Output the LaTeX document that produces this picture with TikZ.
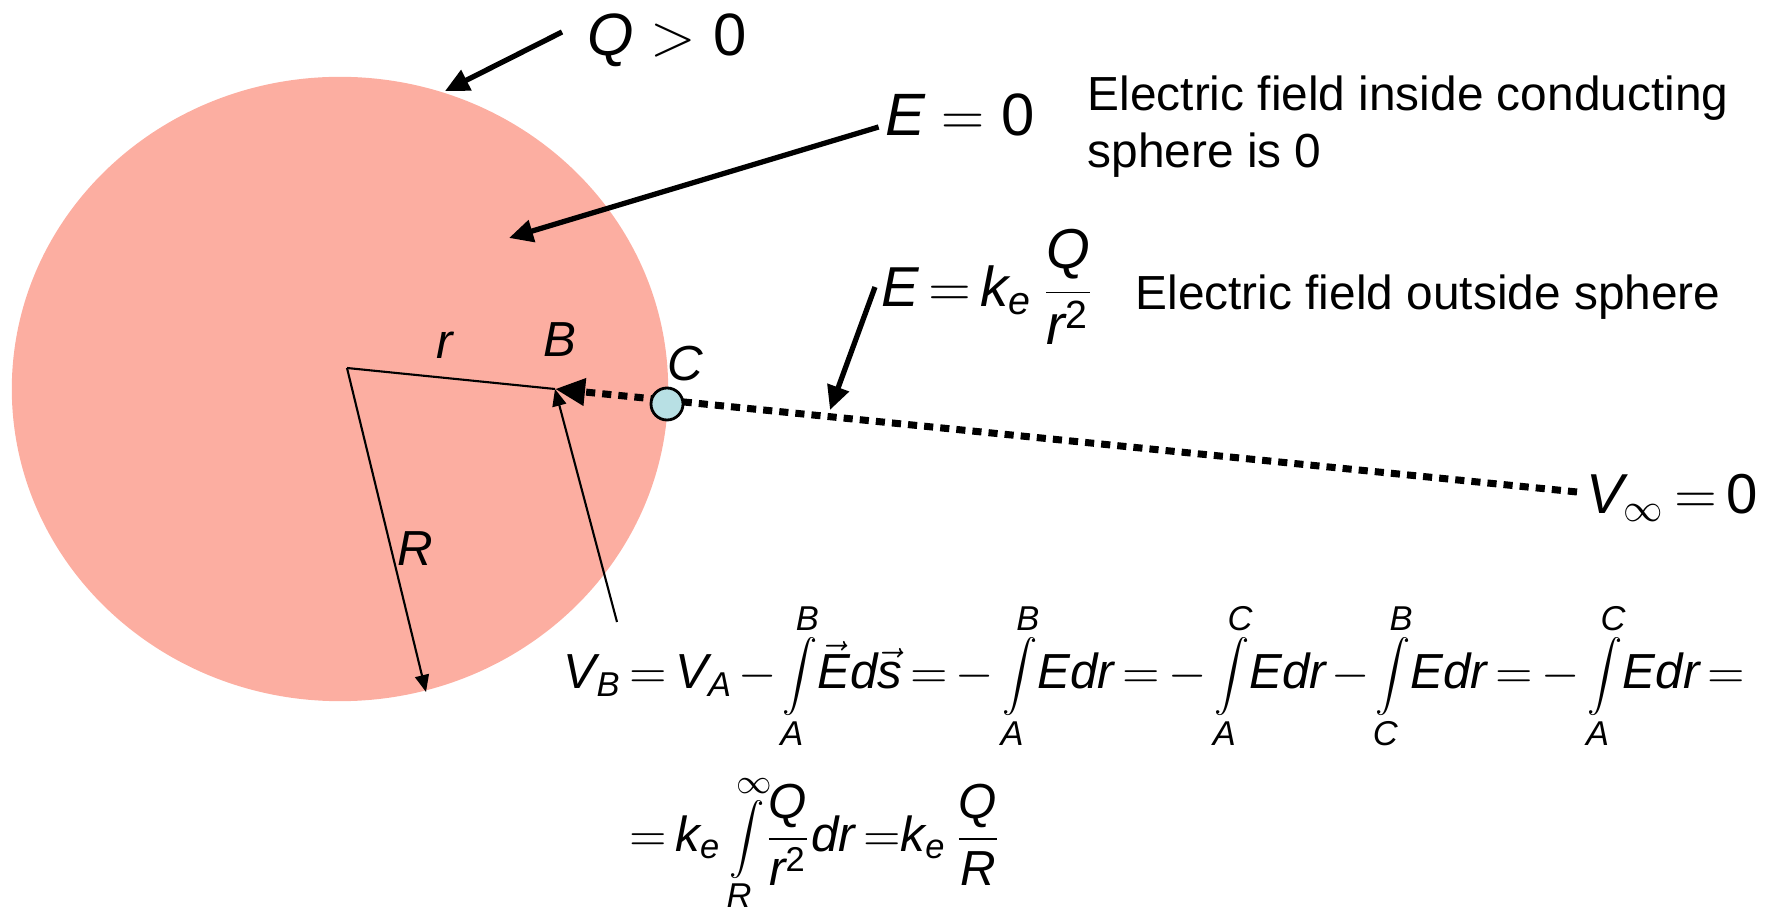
\RequirePackage{fix-cm}
\documentclass[tikz,border=0pt]{standalone}
\usepackage{mathspec}
\setmainfont{Liberation Sans}
\setmathsfont(Digits,Latin){Liberation Sans}
\usetikzlibrary{arrows.meta,positioning}
\definecolor{spherefill}{RGB}{252,174,161}
\definecolor{pointfill}{RGB}{184,224,228}
\newcommand\tightmu{\thickmuskip 3mu\relax\medmuskip 2mu\relax}

\begin{document}
\begin{tikzpicture}[x=0.01cm,y=-0.01cm]
\tikzset{
  bigarrow/.style={-{Triangle[length=2.4mm,width=2.2mm]},line width=1.5pt},
  thinarrow/.style={-{Triangle[length=1.7mm,width=1.4mm]},line width=0.6pt},
  dotarrow/.style={-{Triangle[length=3mm,width=2.6mm]},line width=2pt,dash pattern=on 2.6pt off 2pt},
  pointnode/.style={circle,draw,line width=0.8pt,fill=pointfill,minimum size=3.2mm,inner sep=0pt},
  bigmath/.style={font=\fontsize{17}{20}\selectfont,inner sep=0pt},
  midmath/.style={font=\fontsize{16}{19}\selectfont\tightmu,inner sep=0pt},
  eqmath/.style={font=\fontsize{14}{17}\selectfont\tightmu,inner sep=0pt},
  smallmath/.style={font=\fontsize{14}{17}\selectfont,inner sep=0pt},
  notetext/.style={font=\fontsize{13.6}{16.3}\selectfont,align=left,inner sep=0pt}
}
\useasboundingbox (0,0) rectangle (1775,919);
% conducting sphere
\fill[spherefill] (340,389) ellipse [x radius=3.28cm,y radius=3.12cm];

\coordinate (O) at (347,368);
\coordinate (B) at (555,389);
\coordinate (Rtip) at (426,692);
\coordinate (Bfoot) at (617,622);
\coordinate (Vinf) at (1577,492);
\coordinate (Qtip) at (445,91);
\coordinate (Ezero) at (509,238);
\coordinate (Eout) at (830,410);

% radii and path to B
\draw[line width=0.6pt] (O) -- (B);
\draw[thinarrow] (O) -- (Rtip);
\draw[thinarrow] (Bfoot) -- (B);
\draw[dotarrow] (Vinf) -- (B);
\node[pointnode] (C) at (667,404) {};

\node[smallmath] (rlab) at (445,345) {$r$};
\node[smallmath] (Blab) at (560,340) {$B$};
\node[smallmath] (Clab) at (685,364) {$C$};
\node[smallmath] (Rlab) at (415,549) {$R$};

% labels and notes
\node[bigmath] (Qpos) at (667,40) {$Q>0$};
\node[bigmath] (Ezer) at (960,115) {$E=0$};
\node[notetext,anchor=north west] (inside) at (1087,75) {Electric field inside conducting\\sphere is 0};
\node[midmath,anchor=west] (Efield) at (881,287) {$E=k_e\,\displaystyle\frac{Q}{r^2}$};
\node[notetext] (outside) at (1428,297) {Electric field outside sphere};
\node[midmath] (Vlab) at (1672,498) {$V_\infty=0$};

\draw[bigarrow] ([shift={(-25,-8)}]Qpos.west) -- (Qtip);
\draw[bigarrow] ([shift={(-6,12)}]Ezer.west) -- (Ezero);
\draw[bigarrow] ([shift={(-6,0)}]Efield.west) -- (Eout);

% potential at B
\node[eqmath,anchor=west] (eqone) at (563,676) {$V_B=V_A-\displaystyle\int\limits_A^B\!\vec{E}d\vec{s}=-\int\limits_A^B\!Edr=-\int\limits_A^C\!Edr-\int\limits_C^B\!Edr=-\int\limits_A^C\!Edr=$};
\node[eqmath,anchor=west] (eqtwo) at (629,843) {$=k_e\displaystyle\int\limits_R^\infty\!\frac{Q}{r^2}dr\;{=}k_e\,\frac{Q}{R}$};
\end{tikzpicture}
\end{document}
